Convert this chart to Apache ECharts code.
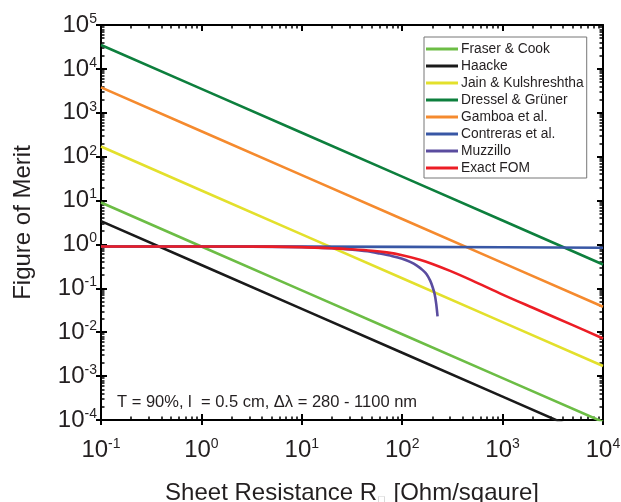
<!DOCTYPE html>
<html>
<head>
<meta charset="utf-8">
<script src="https://cdn.jsdelivr.net/npm/echarts@6/dist/echarts.min.js"></script>
<style>
  html, body { margin: 0; padding: 0; background: #fff; }
  #main { width: 621px; height: 502px; }
</style>
</head>
<body>
<div id="main"></div>
<script>
// sheet resistance (Ohm/sq) at each decade
var rDecades = [0.1, 1, 10, 100, 1000, 10000];

var fraserCook = [9, 0.9, 0.09, 0.009, 0.0009, 0.00009];
var haacke     = [3.4, 0.34, 0.034, 0.0034, 0.00034, 0.000034];
var jain       = [170, 17, 1.7, 0.17, 0.017, 0.0017];
var dressel    = [35000, 3500, 350, 35, 3.5, 0.35];
var gamboa     = [3800, 380, 38, 3.8, 0.38, 0.038];
var contreras  = [0.9, 0.9, 0.89, 0.88, 0.86, 0.84];

// curved ones, read point by point
var muzzilloR   = [0.1, 1, 10, 20, 30, 45, 60, 80, 100, 120, 140, 160, 175, 190, 200, 210, 218, 225];
var muzzilloFom = [0.9, 0.9, 0.87, 0.82, 0.77, 0.7, 0.62, 0.54, 0.47, 0.4, 0.33, 0.26, 0.21, 0.15, 0.11, 0.075, 0.045, 0.023];
var exactR   = [0.1, 1, 5, 10, 20, 30, 50, 70, 100, 150, 200, 300, 500, 1000, 2000, 5000, 10000];
var exactFom = [0.9, 0.9, 0.89, 0.87, 0.82, 0.78, 0.72, 0.66, 0.57, 0.45, 0.36, 0.25, 0.15, 0.072, 0.036, 0.0145, 0.0072];

var names  = ['Fraser & Cook', 'Haacke', 'Jain & Kulshreshtha', 'Dressel & Grüner', 'Gamboa et al.', 'Contreras et al.', 'Muzzillo', 'Exact FOM'];
var colors = ['#6cbd45', '#1a1a1a', '#e3e02c', '#0d7f3d', '#f58a2e', '#3857a5', '#5a4c9f', '#ec1d25'];

function pairs(xs, ys) {
    var out = [];
    for (var i = 0; i < xs.length; i++) out.push([xs[i], ys[i]]);
    return out;
}

var seriesData = [
    pairs(rDecades, fraserCook),
    pairs(rDecades, haacke),
    pairs(rDecades, jain),
    pairs(rDecades, dressel),
    pairs(rDecades, gamboa),
    pairs(rDecades, contreras),
    pairs(muzzilloR, muzzilloFom),
    pairs(exactR, exactFom)
];

var font = '"Liberation Sans", Arial, sans-serif';
var txt = '#231f20';

function powLabel(val) {
    var e = Math.round(Math.log10(val));
    return '{b|10}{s|' + e + '}';
}
var powRich = {
    b: { fontSize: 24, fontFamily: font, color: txt, lineHeight: 26 },
    s: { fontSize: 14, fontFamily: font, color: txt, verticalAlign: 'top', lineHeight: 14 }
};

var myChart = echarts.init(document.getElementById('main'));

var series = [];
for (var i = 0; i < names.length; i++) {
    series.push({
        name: names[i],
        type: 'line',
        data: seriesData[i],
        showSymbol: false,
        smooth: (i >= 6) ? 0.3 : false,
        color: colors[i],
        lineStyle: { width: 2.6, color: colors[i] },
        clip: true,
        z: 2 + i
    });
}

var axisLine = { show: true, onZero: false, lineStyle: { color: '#000', width: 2 } };

var option = {
    backgroundColor: '#fff',
    animation: false,
    grid: { left: 101, right: 18, top: 25, bottom: 82, containLabel: false, outerBoundsMode: 'none' },
    legend: {
        orient: 'vertical',
        left: 424,
        top: 37,
        width: 164,
        padding: [5, 3, 3, 2],
        itemGap: 3,
        itemWidth: 32,
        itemHeight: 3,
        icon: 'rect',
        borderColor: '#777',
        borderWidth: 1,
        borderRadius: 0,
        backgroundColor: '#fff',
        textStyle: { fontSize: 13.8, fontFamily: font, color: txt, padding: [0, 0, 0, -2], lineHeight: 14 },
        data: names
    },
    xAxis: [
        {
            type: 'log', logBase: 10, min: 0.1, max: 10000, interval: 1,
            position: 'bottom',
            axisLine: axisLine,
            axisTick: { show: true, inside: true, length: 6, lineStyle: { color: '#000', width: 2 } },
            minorTick: { show: true, splitNumber: 9, length: 3.5, lineStyle: { color: '#000', width: 1.5 } },
            axisLabel: { margin: 17, formatter: powLabel, rich: powRich },
            splitLine: { show: false },
            name: '{a|Sheet Resistance R}{q|□}{a| [Ohm/sqaure]}',
            nameLocation: 'middle',
            nameGap: 61,
            nameTextStyle: {
                rich: {
                    a: { fontSize: 24, fontFamily: font, color: txt },
                    q: { fontSize: 11, color: '#aaa', verticalAlign: 'bottom', padding: [0, 2, 0, 1] }
                }
            }
        },
        {
            type: 'log', logBase: 10, min: 0.1, max: 10000, interval: 1,
            position: 'bottom',
            axisLine: { show: false },
            axisTick: { show: true, inside: false, length: 5, lineStyle: { color: '#000', width: 2 } },
            axisLabel: { show: false },
            splitLine: { show: false }
        },
        {
            type: 'log', logBase: 10, min: 0.1, max: 10000, interval: 1,
            position: 'top',
            axisLine: axisLine,
            axisTick: { show: true, inside: true, length: 6, lineStyle: { color: '#000', width: 2 } },
            minorTick: { show: true, splitNumber: 9, length: 3.5, lineStyle: { color: '#000', width: 1.5 } },
            axisLabel: { show: false },
            splitLine: { show: false }
        }
    ],
    yAxis: [
        {
            type: 'log', logBase: 10, min: 0.0001, max: 100000, interval: 1,
            position: 'left',
            axisLine: axisLine,
            axisTick: { show: true, inside: true, length: 6, lineStyle: { color: '#000', width: 2 } },
            minorTick: { show: true, splitNumber: 9, length: 3.5, lineStyle: { color: '#000', width: 1.5 } },
            axisLabel: { margin: 4, formatter: powLabel, rich: powRich },
            splitLine: { show: false },
            name: 'Figure of Merit',
            nameLocation: 'middle',
            nameGap: 66,
            nameRotate: 90,
            nameTextStyle: { fontSize: 24, fontFamily: font, color: txt }
        },
        {
            type: 'log', logBase: 10, min: 0.0001, max: 100000, interval: 1,
            position: 'left',
            axisLine: { show: false },
            axisTick: { show: true, inside: false, length: 5, lineStyle: { color: '#000', width: 2 } },
            axisLabel: { show: false },
            splitLine: { show: false }
        },
        {
            type: 'log', logBase: 10, min: 0.0001, max: 100000, interval: 1,
            position: 'right',
            axisLine: axisLine,
            axisTick: { show: true, inside: true, length: 6, lineStyle: { color: '#000', width: 2 } },
            minorTick: { show: true, splitNumber: 9, length: 3.5, lineStyle: { color: '#000', width: 1.5 } },
            axisLabel: { show: false },
            splitLine: { show: false }
        }
    ],
    graphic: [
        {
            type: 'text',
            left: 117,
            top: 394,
            style: {
                text: 'T = 90%, l  = 0.5 cm, Δλ = 280 - 1100 nm',
                font: '16.5px "Liberation Sans", Arial, sans-serif',
                fill: txt
            }
        }
    ],
    series: series
};
// 为echarts对象加载数据
myChart.setOption(option);
</script>
</body>
</html>
